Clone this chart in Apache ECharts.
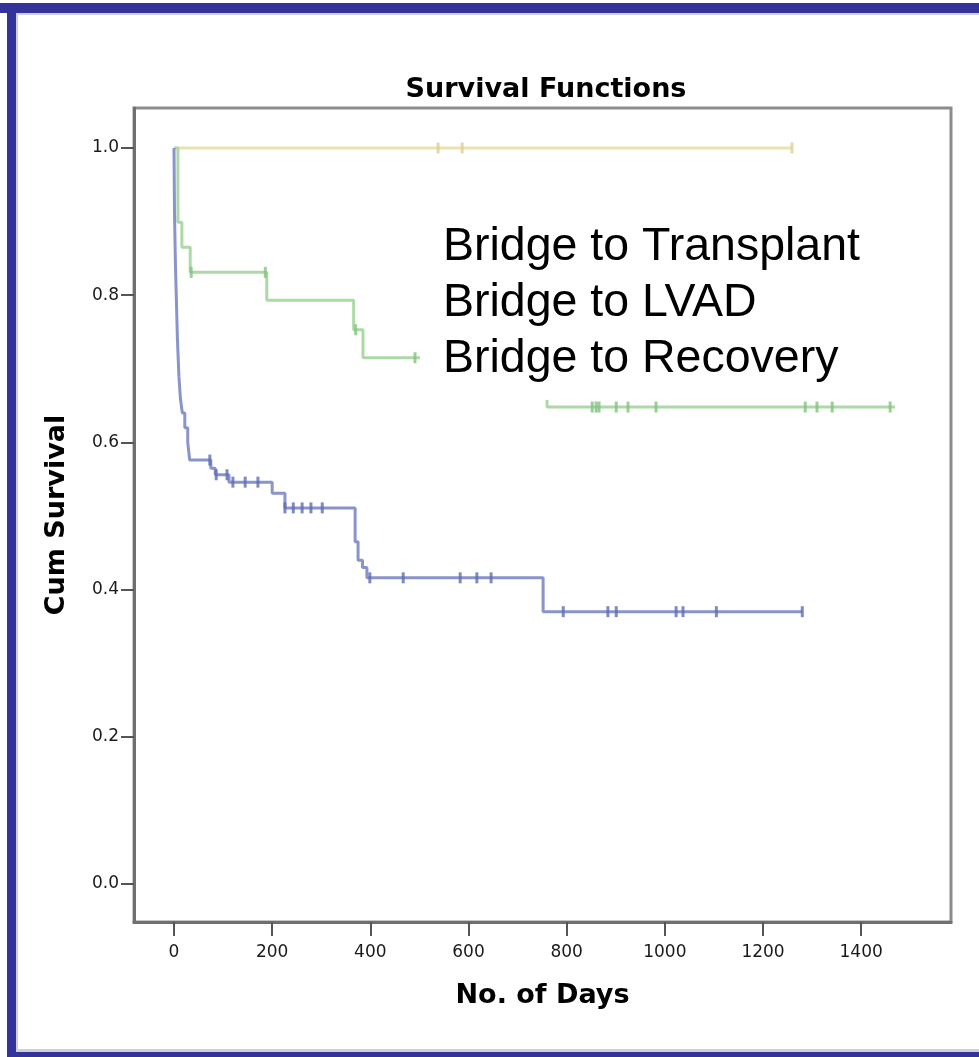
<!DOCTYPE html>
<html><head><meta charset="utf-8">
<script src="https://cdn.jsdelivr.net/npm/echarts@6/dist/echarts.min.js"></script>
<style>html,body{margin:0;padding:0;background:#fff}#c{width:979px;height:1057px}</style>
</head><body><div id="c"></div>
<script>
// ---- data ----
const xTicks = [0, 200, 400, 600, 800, 1000, 1200, 1400];
const yTicks = [0, 0.2, 0.4, 0.6, 0.8, 1.0];
const chartTitle = 'Survival Functions';
const xName = 'No. of Days';
const yName = 'Cum Survival';
const groupLabels = ['Bridge to Transplant', 'Bridge to LVAD', 'Bridge to Recovery'];

// yellow curve (no events)
const yellowDays = [0, 1259];
const yellowSurv = [1.0, 1.0];
const yellowCensor = [538, 587, 1259];

// green curve
const greenDays = [0, 8, 16, 33, 189, 366, 385, 760, 1469];
const greenSurv = [1.0, 0.899, 0.865, 0.831, 0.793, 0.753, 0.715, 0.648, 0.648];
const greenCensor = [35, 186, 370, 491, 852, 860, 866, 901, 925, 982, 1286, 1310, 1341, 1459];

// blue curve
const blueDays = [0, 1, 3, 7, 10, 13, 17, 22, 28, 32, 75, 84, 112, 200, 226, 369, 375, 384, 393, 752, 1280];
const blueSurv = [1.0, 0.913, 0.84, 0.74, 0.69, 0.66, 0.64, 0.62, 0.60, 0.576, 0.565, 0.556, 0.546, 0.531, 0.511, 0.465, 0.44, 0.43, 0.416, 0.37, 0.37];
const blueCensor = [73, 86, 108, 120, 145, 171, 226, 243, 261, 279, 302, 399, 467, 583, 617, 646, 793, 884, 901, 1023, 1037, 1105, 1280];

// ---- helpers ----
function pairs(days, surv) { return days.map((d, i) => [d, surv[i]]); }
function survAt(days, surv, d) {
  let v = surv[0];
  for (let i = 0; i < days.length; i++) { if (days[i] <= d) v = surv[i]; }
  return v;
}
function censorPts(c, days, surv) { return c.map(d => [d, survAt(days, surv, d)]); }

const chart = echarts.init(document.getElementById('c'), null, { renderer: 'canvas' });

function stepSeries(name, days, surv, color) {
  return { name, type: 'line', step: 'end', symbol: 'none', data: pairs(days, surv),
    lineStyle: { color, width: 3 }, z: 3, silent: true };
}
function censorSeries(name, c, days, surv, color) {
  return { name: name + ' censored', type: 'scatter', symbol: 'rect', symbolSize: [3, 11],
    data: censorPts(c, days, surv), itemStyle: { color }, z: 4, silent: true };
}

const axisFont = { fontFamily: 'DejaVu Sans', fontSize: 17, color: '#1a1a1a' };
const nameFont = { fontFamily: 'DejaVu Sans', fontWeight: 'bold', fontSize: 27, color: '#000' };

chart.setOption({
  animation: false,
  backgroundColor: '#fff',
  title: {
    text: chartTitle, left: 541, top: 71, textAlign: 'center',
    textStyle: { fontFamily: 'DejaVu Sans', fontWeight: 'bold', fontSize: 27, color: '#000' }
  },
  grid: { left: 134, right: 28, top: 108, bottom: 135, show: true, borderColor: '#8c8c8c',
    borderWidth: 3, backgroundColor: '#fff', containLabel: false, outerBoundsMode: 'none' },
  xAxis: {
    type: 'value', min: -81.5, max: 1583,
    axisLine: { show: true, onZero: false, lineStyle: { color: '#707070', width: 3 } },
    axisTick: { show: true, customValues: xTicks, length: 14, lineStyle: { color: '#555', width: 2 } },
    axisLabel: Object.assign({ customValues: xTicks, margin: 22, formatter: v => String(v) }, axisFont),
    splitLine: { show: false },
    name: xName, nameLocation: 'middle', nameGap: 60, nameTextStyle: nameFont
  },
  yAxis: {
    type: 'value', min: -0.0516, max: 1.0543,
    axisLine: { show: true, onZero: false, lineStyle: { color: '#707070', width: 3 } },
    axisTick: { show: true, customValues: yTicks, length: 13, lineStyle: { color: '#555', width: 2 } },
    axisLabel: Object.assign({ customValues: yTicks, margin: 15, formatter: v => v.toFixed(1) }, axisFont),
    splitLine: { show: false },
    name: yName, nameLocation: 'middle', nameGap: 64, nameRotate: 90, nameTextStyle: nameFont
  },
  series: [
    stepSeries('Yellow', yellowDays, yellowSurv, '#ebe2b2'),
    stepSeries('Green', greenDays, greenSurv, '#acd9a6'),
    stepSeries('Blue', blueDays, blueSurv, '#8894ca'),
    censorSeries('Yellow', yellowCensor, yellowDays, yellowSurv, '#dcd096'),
    censorSeries('Green', greenCensor, greenDays, greenSurv, '#82c280'),
    censorSeries('Blue', blueCensor, blueDays, blueSurv, '#5d6db5')
  ],
  graphic: [
    // slide frame
    { type: 'rect', z: 100, silent: true, shape: { x: 0, y: 3, width: 979, height: 10 }, style: { fill: '#333399' } },
    { type: 'rect', z: 100, silent: true, shape: { x: 7, y: 3, width: 9, height: 1054 }, style: { fill: '#333399' } },
    { type: 'rect', z: 100, silent: true, shape: { x: 7, y: 1052, width: 972, height: 5 }, style: { fill: '#333399' } },
    { type: 'rect', z: 100, silent: true, shape: { x: 16, y: 13, width: 963, height: 2 }, style: { fill: '#cfcfd8' } },
    { type: 'rect', z: 100, silent: true, shape: { x: 16, y: 13, width: 2, height: 1039 }, style: { fill: '#cfcfd8' } },
    { type: 'rect', z: 100, silent: true, shape: { x: 16, y: 1049, width: 963, height: 3 }, style: { fill: '#cfcfd8' } },
    // text box overlaid on the plot
    { type: 'rect', z: 100, silent: true, shape: { x: 420, y: 222, width: 455, height: 178 }, style: { fill: '#fff' } },
    { type: 'text', z: 101, silent: true, x: 443, y: 247,
      style: { text: groupLabels[0], font: '46.5px "Liberation Sans", Arial, sans-serif', fill: '#000', verticalAlign: 'middle' } },
    { type: 'text', z: 101, silent: true, x: 443, y: 303,
      style: { text: groupLabels[1], font: '46.5px "Liberation Sans", Arial, sans-serif', fill: '#000', verticalAlign: 'middle' } },
    { type: 'text', z: 101, silent: true, x: 443, y: 359,
      style: { text: groupLabels[2], font: '46.5px "Liberation Sans", Arial, sans-serif', fill: '#000', verticalAlign: 'middle' } }
  ]
});
</script>
</body></html>
